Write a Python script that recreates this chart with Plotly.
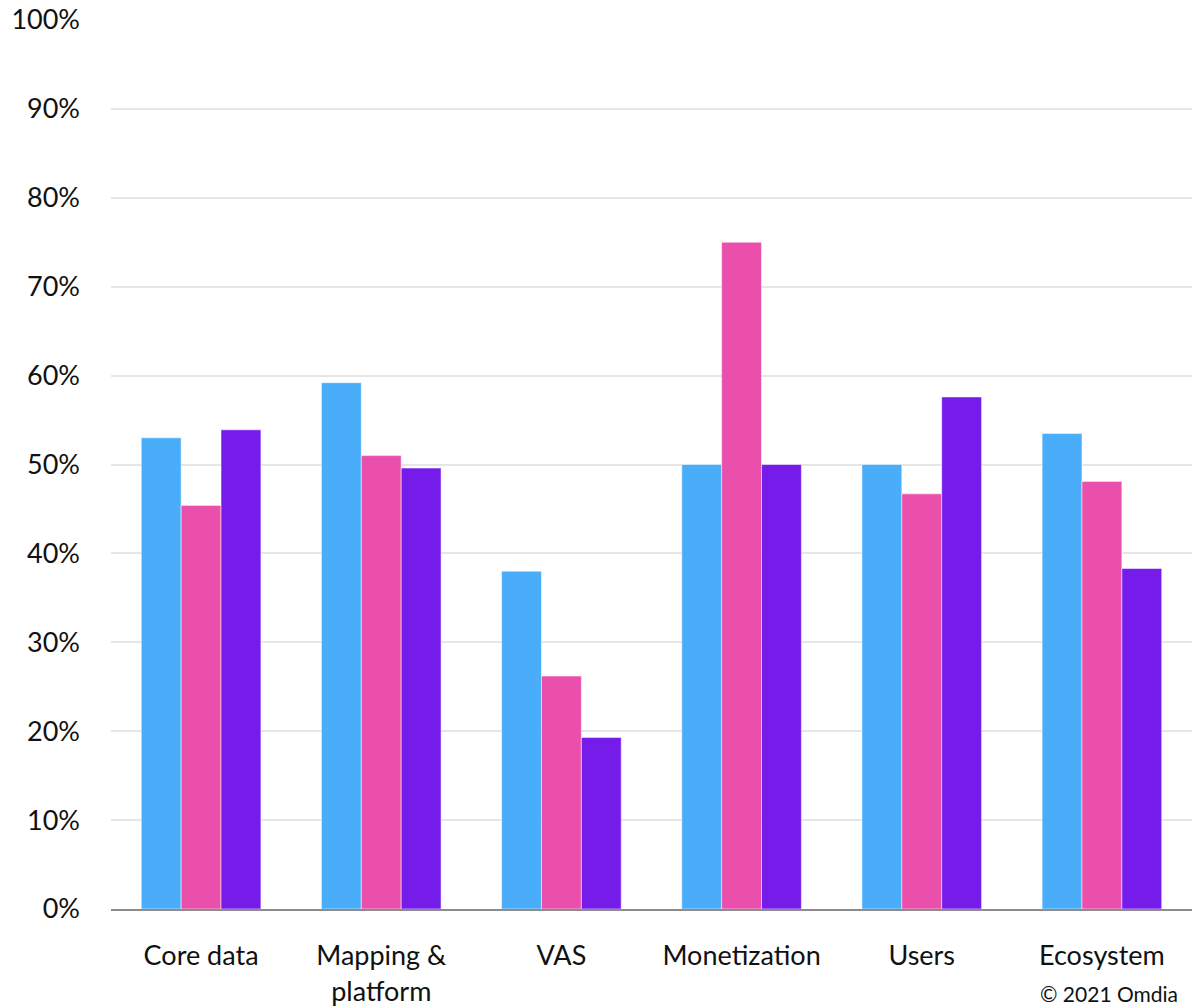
import plotly.graph_objects as go

categories = ["Core data", "Mapping &<br>platform", "VAS", "Monetization", "Users", "Ecosystem"]
series_a = [53.0, 59.2, 38.0, 50.0, 50.0, 53.5]
series_b = [45.4, 51.0, 26.2, 75.0, 46.7, 48.1]
series_c = [53.9, 49.6, 19.3, 50.0, 57.6, 38.3]
series_names = ["Series 1", "Series 2", "Series 3"]
colors = ["#4AADF9", "#EA4FAB", "#761CEA"]
tick_vals = [0, 10, 20, 30, 40, 50, 60, 70, 80, 90, 100]
tick_text = [f"{v}%" for v in tick_vals]

fig = go.Figure()
for name, vals, col in zip(series_names, [series_a, series_b, series_c], colors):
    fig.add_trace(go.Bar(x=categories, y=vals, name=name, marker_color=col,
                         marker_line=dict(color="rgba(255,255,255,0.5)", width=1)))

font_family = "Lato, 'Open Sans', sans-serif"
fig.update_layout(
    barmode="group", bargap=0.336, bargroupgap=0,
    width=1192, height=1006,
    margin=dict(l=111, r=0, t=20, b=97),
    plot_bgcolor="white", paper_bgcolor="white",
    showlegend=False,
    font=dict(family=font_family, size=27, color="#111111"),
    xaxis=dict(showline=True, linecolor="#8C8C8C", linewidth=2, ticks="",
               tickfont=dict(size=27), ticklabelstandoff=22),
    yaxis=dict(range=[0, 100], tickvals=tick_vals, ticktext=tick_text,
               showgrid=True, gridcolor="#E6E6E6", gridwidth=2, zeroline=False,
               tickfont=dict(size=27), ticklabelstandoff=30),
)
fig.add_annotation(text="© 2021 Omdia", xref="paper", yref="paper", x=1.0, y=0,
                   yshift=-84, xshift=-12, xanchor="right", yanchor="middle", showarrow=False,
                   font=dict(size=21, color="#111111"))
fig.write_html("out.html")
